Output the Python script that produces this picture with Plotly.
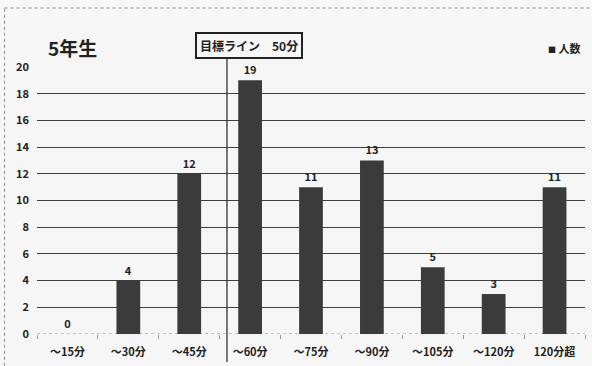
import plotly.graph_objects as go

categories = ["～15分", "～30分", "～45分", "～60分", "～75分", "～90分", "～105分", "～120分", "120分超"]
values = [0, 4, 12, 19, 11, 13, 5, 3, 11]
series_name = "人数"
title_text = "5年生"
target_label = "目標ライン　50分"
target_pos = 2.62  # position of 50分 on the category axis (between ～45分 and ～60分)
y_ticks = list(range(0, 21, 2))

W, H = 592, 366
ml, mr, mt, mb = 36.5, 6.5, 67, 32
pw, ph = W - ml - mr, H - mt - mb

def px_x(x):
    return (x - ml) / pw

def px_y(y):
    return (H - mb - y) / ph

font = "Noto Sans CJK JP, Noto Sans, sans-serif"

fig = go.Figure()
fig.add_trace(go.Bar(
    x=categories, y=values, name=series_name,
    marker=dict(color="#3b3b3b", line=dict(width=0)),
    text=[str(v) for v in values], textposition="outside",
    textfont=dict(size=11, color="#222", family=font, weight="bold"),
    cliponaxis=False, showlegend=False,
))

fig.update_layout(
    width=W, height=H,
    margin=dict(l=ml, r=mr, t=mt, b=mb, autoexpand=False),
    paper_bgcolor="#f6f6f6", plot_bgcolor="#f6f6f6",
    bargap=0.61,
    font=dict(family=font, color="#222"),
    showlegend=False,
    xaxis=dict(type="category", showgrid=False, showline=False,
               ticks="outside", ticklen=4, tickcolor="#9a9a9a",
               tickson="boundaries", ticklabelstandoff=10,
               tickfont=dict(size=11, color="#222", weight="bold")),
    yaxis=dict(range=[0, 20], tickvals=y_ticks, showgrid=True, gridcolor="#3e3e3e",
               gridwidth=1.3, zeroline=False, showline=False,
               tickfont=dict(size=11, color="#222", weight="bold"), ticklabelstandoff=7),
)

# Dotted baseline
fig.add_shape(type="line", xref="paper", yref="y", x0=0, x1=1, y0=0, y1=0,
              line=dict(color="#8f8f8f", width=1, dash="dot"), layer="below")

# Title
fig.add_annotation(text="<b>" + title_text + "</b>", xref="paper", yref="paper",
                   x=px_x(46), y=px_y(47), xanchor="left", yanchor="middle",
                   showarrow=False, font=dict(size=19, color="#222"))

# Legend (series name)
fig.add_annotation(text="<b><span style='font-size:8px'>■</span> " + series_name + "</b>",
                   xref="paper", yref="paper",
                   x=px_x(546), y=px_y(48), xanchor="left", yanchor="middle",
                   showarrow=False, font=dict(size=11, color="#222"))

# Target line
fig.add_shape(type="line", xref="x", yref="paper", x0=target_pos, x1=target_pos,
              y0=px_y(57), y1=px_y(362), line=dict(color="#333", width=1.3))
fig.add_annotation(text="<b>" + target_label + "</b>", xref="paper", yref="paper",
                   x=px_x(249), y=px_y(45), xanchor="center", yanchor="middle",
                   showarrow=False, font=dict(size=12, color="#222"),
                   bordercolor="#222", borderwidth=2, borderpad=3, bgcolor="#f6f6f6")

# Chart border
fig.add_shape(type="rect", xref="paper", yref="paper",
              x0=px_x(4), x1=px_x(620), y0=px_y(8), y1=px_y(400),
              line=dict(color="#8a8a8a", width=1, dash="dot"))

fig.write_html("out.html")
